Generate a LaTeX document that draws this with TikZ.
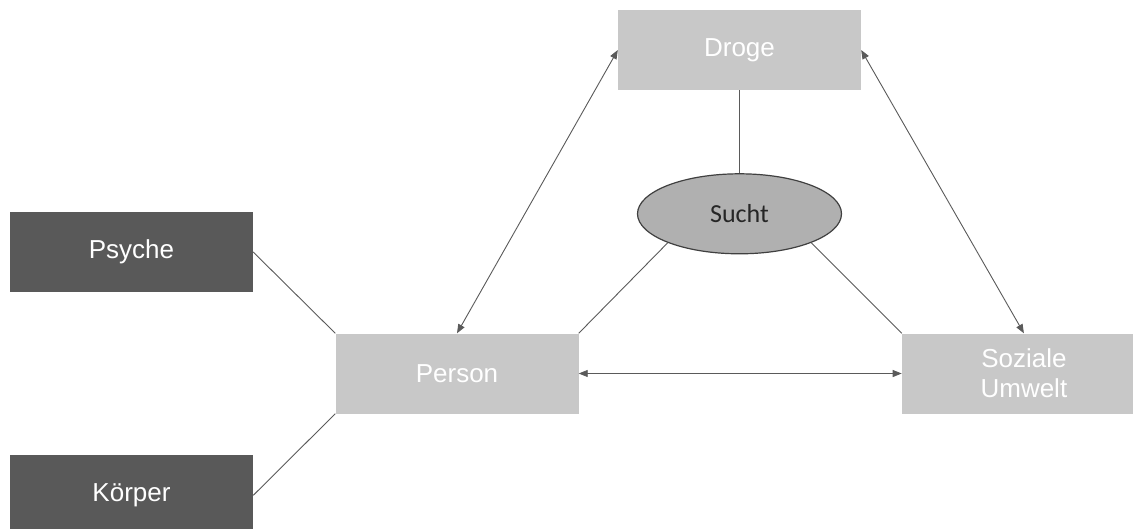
\documentclass[tikz,border=0pt]{standalone}
\usepackage{fontspec}
\setmainfont{Liberation Sans}
\newfontfamily\suchtfont{Carlito}
\usepackage{tikz}
\usetikzlibrary{positioning,shapes.geometric,arrows.meta}
\definecolor{boxlight}{HTML}{C8C8C8}
\definecolor{boxdark}{HTML}{595959}
\definecolor{ellfill}{HTML}{B0B0B0}
\definecolor{ellline}{HTML}{404040}
\definecolor{linegray}{HTML}{5A5A5A}

\begin{document}
\begin{tikzpicture}[x=1pt,y=-1pt,
  factor/.style={fill=boxlight,text=white,minimum width=243pt,minimum height=80pt,
    inner sep=0pt,align=center,font=\fontsize{26}{30}\selectfont},
  aspect/.style={factor,fill=boxdark},
  core/.style={ellipse,fill=ellfill,draw=ellline,line width=1.2pt,minimum width=204pt,
    minimum height=80pt,inner sep=0pt,text=black!85,font=\suchtfont\fontsize{26}{30}\selectfont},
  link/.style={draw=linegray,line width=0.9pt},
  both/.style={link,{Triangle[length=9pt,width=7pt]}-{Triangle[length=9pt,width=7pt]}}]
  \useasboundingbox (0,0) rectangle (1133,528);
  \node[factor] (droge) at (739.5,50) {Droge};
  \node[core] (sucht) [below=83pt of droge] {Sucht};
  \node[factor] (person) at (457,373.5) {Person};
  \node[factor,minimum width=244pt] (soziale) [right=323pt of person] {Soziale\\Umwelt};
  \node[aspect] (psyche) at (131.5,252) {Psyche};
  \node[aspect] (koerper) [below=163pt of psyche] {Körper};

  \draw[link] (droge) -- (sucht);
  \draw[link] (sucht.202) -- (person.north east);
  \draw[link] (sucht.338) -- (soziale.north west);
  \draw[link] (psyche.east) -- (person.north west);
  \draw[link] (koerper.east) -- (person.south west);
  \draw[both] (person.north) -- (droge.west);
  \draw[both] (droge.east) -- (soziale.north);
  \draw[both] (person.east) -- (soziale.west);
\end{tikzpicture}
\end{document}
